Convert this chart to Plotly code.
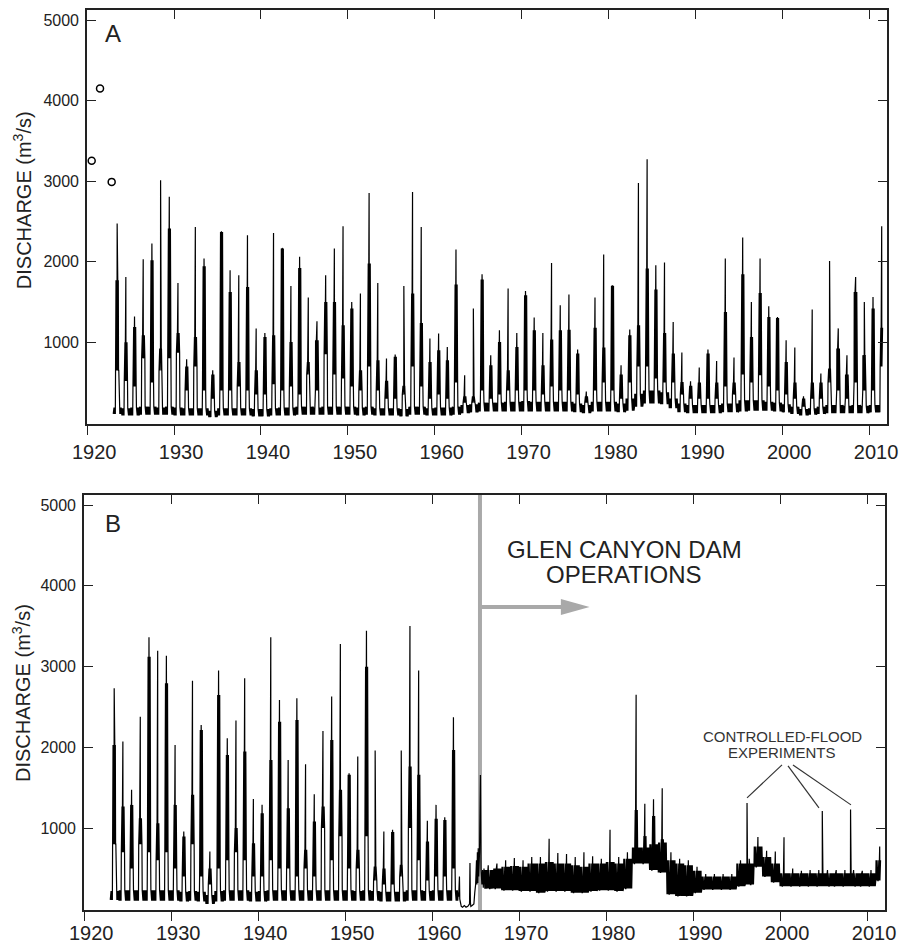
import plotly.graph_objects as go

# ---------------- data ----------------
years_A = list(range(1923, 2012))
A_peak = [2474, 1811, 1318, 2031, 2226, 3012, 2805, 1736, 789, 2432,
          2039, 652, 2378, 1894, 1832, 2329, 1170, 1115, 2357, 2171,
          1699, 2060, 1555, 1261, 1832, 2163, 2440, 1501, 1605, 2854,
          1736, 797, 847, 1699, 2866, 2432, 1046, 1108, 942, 2151,
          590, 1418, 1844, 838, 1149, 1666, 1115, 1637, 1306, 1115,
          1985, 1459, 1592, 909, 387, 1555, 2089, 1708, 714, 1157,
          2978, 3273, 1956, 1990, 1252, 872, 515, 686, 909, 768,
          2039, 810, 2300, 1501, 2039, 1447, 1314, 1025, 934, 329,
          1406, 611, 2010, 1172, 838, 1811, 1501, 1563, 2440]
A_body = [1770, 1000, 1190, 1087, 2018, 921, 2412, 1115, 700, 1066,
          1943, 600, 2370, 1625, 755, 1687, 652, 1066, 1087, 2163,
          1004, 1923, 755, 1025, 1501, 1501, 1211, 1418, 652, 1977,
          776, 522, 820, 460, 1605, 1240, 755, 900, 776, 1716,
          329, 330, 1778, 714, 1004, 652, 942, 1584, 1149, 714,
          1033, 1149, 1155, 859, 330, 1180, 934, 1700, 600, 1087,
          1211, 1915, 1654, 1115, 859, 507, 460, 500, 859, 500,
          1376, 500, 1844, 1066, 1612, 1314, 1300, 755, 500, 300,
          500, 500, 673, 923, 600, 1625, 840, 1418, 1180]
A_mid = [650, 520, 450, 800, 500, 650, 800, 870, 400, 700,
         400, 300, 400, 400, 450, 400, 350, 350, 480, 400,
         450, 350, 600, 400, 850, 600, 550, 450, 400, 700,
         400, 300, 300, 350, 700, 450, 300, 350, 300, 500,
         250, 250, 400, 300, 350, 400, 400, 400, 400, 350,
         450, 400, 400, 350, 250, 400, 500, 400, 300, 500,
         700, 700, 550, 500, 500, 350, 300, 300, 300, 300,
         450, 350, 600, 500, 590, 450, 400, 350, 300, 200,
         300, 300, 500, 400, 300, 500, 400, 400, 700]
A_lo = [110, 90, 90, 100, 100, 100, 100, 90, 90, 90,
        90, 70, 90, 90, 90, 90, 80, 80, 90, 90,
        90, 100, 100, 100, 100, 100, 100, 100, 90, 100,
        90, 90, 90, 80, 100, 100, 90, 90, 90, 100,
        120, 130, 140, 140, 140, 140, 140, 140, 140, 140,
        140, 140, 140, 130, 120, 140, 140, 140, 130, 150,
        200, 240, 240, 230, 180, 130, 120, 120, 120, 120,
        130, 130, 140, 150, 150, 150, 140, 130, 110, 90,
        100, 110, 120, 120, 120, 120, 120, 130, 130]
A_hi = [190, 180, 190, 200, 200, 190, 200, 190, 180, 180,
        180, 150, 180, 180, 180, 180, 170, 170, 180, 190,
        190, 200, 200, 190, 200, 200, 200, 200, 190, 200,
        180, 180, 180, 170, 200, 200, 180, 190, 190, 200,
        220, 230, 250, 250, 250, 260, 260, 270, 260, 260,
        260, 260, 260, 240, 220, 260, 260, 260, 240, 300,
        360, 400, 400, 380, 300, 240, 220, 220, 220, 220,
        240, 240, 280, 280, 280, 260, 250, 230, 200, 170,
        180, 200, 220, 220, 210, 220, 210, 220, 220]
A_hist_years = [1920.52, 1921.48, 1922.82]
A_hist_peaks = [3252, 4150, 2991]

years_B_pre = list(range(1923, 1963))
B_pre_peak = [2731, 2071, 1473, 2380, 3362, 3197, 3135, 2030, 957, 2826,
              2277, 709, 2950, 2112, 2331, 2855, 1361, 1287, 3362, 2587,
              1844, 2607, 1790, 1419, 2203, 2628, 3280, 1679, 1885, 3444,
              1960, 957, 978, 1960, 3502, 2950, 1089, 1287, 1135, 2372]
B_pre_body = [2030, 1266, 1287, 1122, 3123, 1060, 2793, 1287, 895, 1411,
              2215, 500, 2648, 1906, 1000, 1947, 813, 1184, 1844, 2318,
              1246, 2339, 730, 1081, 1266, 2091, 1473, 1659, 730, 2999,
              524, 500, 950, 544, 1761, 1659, 833, 1114, 1100, 1968]
B_pre_mid = [800, 700, 500, 800, 700, 600, 700, 500, 400, 800,
             400, 300, 500, 600, 700, 600, 400, 400, 600, 500,
             500, 400, 500, 400, 1000, 600, 900, 500, 500, 900,
             350, 300, 300, 400, 1000, 600, 350, 400, 400, 500]
B_pre_lo = [110, 100, 100, 100, 100, 100, 100, 100, 90, 100,
            90, 60, 90, 100, 100, 100, 90, 90, 100, 100,
            100, 100, 100, 100, 100, 100, 100, 100, 100, 100,
            100, 90, 90, 90, 100, 100, 100, 100, 100, 100]
B_pre_hi = [220, 230, 230, 230, 230, 230, 230, 230, 210, 220,
            210, 170, 220, 230, 230, 230, 210, 220, 230, 230,
            230, 230, 230, 230, 230, 230, 230, 230, 220, 230,
            220, 210, 210, 210, 230, 230, 220, 230, 230, 230]

# closure of Glen Canyon Dam: 1963-1965 read point by point
B_trans_t = [1963.00, 1963.05, 1963.10, 1963.14, 1963.18, 1963.25, 1963.35, 1963.50,
             1963.70, 1963.90, 1964.10, 1964.30, 1964.35, 1964.40, 1964.45, 1964.60,
             1964.80, 1964.90, 1965.00, 1965.10, 1965.15, 1965.20, 1965.25, 1965.30,
             1965.35, 1965.45, 1965.55, 1965.62, 1965.72, 1965.80, 1965.88, 1965.96]
B_trans_v = [200, 150, 230, 400, 120, 60, 30, 20,
             40, 20, 30, 60, 566, 80, 30, 40,
             60, 200, 300, 600, 300, 700, 320, 750,
             400, 700, 1658, 500, 300, 480, 260, 500]

years_B_post = list(range(1966, 2012))
B_post_lo = [250, 250, 230, 230, 220, 220, 200, 220, 220, 220,
             200, 200, 220, 230, 230, 220, 250, 560, 560, 480,
             450, 180, 160, 160, 200, 240, 240, 240, 240, 280,
             300, 520, 400, 330, 280, 280, 280, 280, 280, 280,
             280, 280, 280, 280, 280, 350]
B_post_hi = [480, 500, 520, 530, 520, 560, 560, 580, 560, 560,
             540, 520, 560, 560, 580, 560, 620, 760, 760, 800,
             820, 600, 560, 540, 470, 400, 400, 400, 400, 560,
             560, 770, 640, 560, 440, 440, 440, 440, 440, 440,
             440, 440, 440, 440, 440, 600]
B_post_body = [480, 500, 520, 530, 520, 560, 560, 580, 560, 560,
               540, 520, 560, 560, 580, 560, 620, 1225, 900, 1150,
               860, 600, 560, 540, 470, 400, 400, 400, 400, 560,
               560, 770, 640, 560, 440, 440, 440, 440, 440, 440,
               440, 440, 440, 440, 440, 600]
B_post_peak = [540, 560, 600, 630, 600, 640, 640, 866, 690, 680,
               640, 700, 650, 620, 980, 640, 700, 2650, 1300, 1357,
               1493, 700, 620, 600, 520, 430, 430, 430, 430, 600,
               620, 890, 720, 709, 887, 500, 470, 480, 480, 480,
               480, 480, 480, 470, 480, 771]

flood_dates = [1996.20, 2004.85, 2008.10]
flood_peaks = [1310, 1210, 1230]

data_end = 2011.55

# within-year sampling template (fraction of year, which value)
CYCLE = [(0.00, 'lo'), (0.03, 'hi'), (0.06, 'lo'), (0.09, 'hi'), (0.12, 'lo'), (0.15, 'hi'),
         (0.18, 'lo'), (0.21, 'hi'), (0.24, 'lo'), (0.27, 'mid'),
         (0.29, 'body'), (0.305, 'mid'), (0.32, 'body'), (0.335, 'mid'), (0.35, 'body'),
         (0.365, 'mid'), (0.38, 'body'), (0.395, 'mid'), (0.41, 'body'), (0.425, 'mid'),
         (0.44, 'body'), (0.45, 'peak'), (0.46, 'body'), (0.475, 'mid'), (0.49, 'body'),
         (0.505, 'mid'), (0.52, 'body'), (0.535, 'mid'), (0.55, 'body'), (0.565, 'mid'),
         (0.58, 'body'), (0.595, 'mid'), (0.61, 'mid'), (0.64, 'mid'), (0.67, 'hi'),
         (0.70, 'lo'), (0.73, 'hi'), (0.76, 'lo'), (0.79, 'hi'), (0.82, 'lo'), (0.85, 'hi'),
         (0.88, 'lo'), (0.91, 'hi'), (0.94, 'lo'), (0.97, 'hi')]


def build(yrs, lo, hi, mid, body, peak):
    pts = []
    for i, yr in enumerate(yrs):
        vals = {'lo': lo[i], 'hi': hi[i], 'mid': mid[i], 'body': body[i], 'peak': peak[i]}
        for off, key in CYCLE:
            t = yr + off
            if t <= data_end:
                pts.append((t, vals[key]))
    return pts


ptsA = build(years_A, A_lo, A_hi, A_mid, A_body, A_peak)
ptsB = (build(years_B_pre, B_pre_lo, B_pre_hi, B_pre_mid, B_pre_body, B_pre_peak)
        + list(zip(B_trans_t, B_trans_v))
        + build(years_B_post, B_post_lo, B_post_hi, B_post_lo, B_post_body, B_post_peak)
        + list(zip(flood_dates, flood_peaks)))
ptsB.sort(key=lambda p: p[0])

xtick_vals = [1920, 1930, 1940, 1950, 1960, 1970, 1980, 1990, 2000, 2010]
xtick_text = [str(v) for v in xtick_vals]
ytick_vals = [1000, 2000, 3000, 4000, 5000]

# ---------------- figure ----------------
FONT = 'Liberation Sans, Arial, Helvetica, sans-serif'
INK = '#222222'
GRAY = '#a9a9a9'
XR = [1919.98, 2012.06]
YR = [-15, 5125]

fig = go.Figure()
fig.add_trace(go.Scatter(x=[p[0] for p in ptsA], y=[p[1] for p in ptsA], mode='lines',
                         line=dict(color='black', width=1.2), xaxis='x', yaxis='y',
                         hoverinfo='skip', showlegend=False))
fig.add_trace(go.Scatter(x=A_hist_years, y=A_hist_peaks, mode='markers',
                         marker=dict(symbol='circle-open', size=7, color='black', line=dict(width=1.5)),
                         xaxis='x', yaxis='y', hoverinfo='skip', showlegend=False))
fig.add_trace(go.Scatter(x=[p[0] for p in ptsB], y=[p[1] for p in ptsB], mode='lines',
                         line=dict(color='black', width=1.2), xaxis='x2', yaxis='y2',
                         hoverinfo='skip', showlegend=False))
# empty traces to hold the top tick axes
fig.add_trace(go.Scatter(x=[None], y=[None], xaxis='x3', yaxis='y', showlegend=False, hoverinfo='skip'))
fig.add_trace(go.Scatter(x=[None], y=[None], xaxis='x4', yaxis='y2', showlegend=False, hoverinfo='skip'))

xbase = dict(range=XR, tickvals=xtick_vals, ticktext=xtick_text, ticks='outside', ticklen=9,
             tickwidth=1.3, tickcolor=INK, showline=True, linecolor=INK, linewidth=1.6,
             mirror=True, showgrid=False, zeroline=False, automargin=False,
             tickfont=dict(family=FONT, size=20, color=INK), ticklabelshift=7)
xtop = dict(range=XR, tickvals=xtick_vals, ticks='inside', ticklen=9, tickwidth=1.3,
            tickcolor=INK, showticklabels=False, showline=False, showgrid=False,
            zeroline=False, side='top', automargin=False)
ybase = dict(range=YR, tickvals=ytick_vals, ticks='inside', ticklen=9, tickwidth=1.3,
             tickcolor=INK, showline=True, linecolor=INK, linewidth=1.6, mirror='ticks',
             showgrid=False, zeroline=False, automargin=False,
             tickfont=dict(family=FONT, size=16, color=INK), ticklabelstandoff=3)

fig.update_layout(
    width=902, height=945,
    margin=dict(l=84, r=15, t=10, b=35),
    paper_bgcolor='white', plot_bgcolor='white',
    xaxis=dict(xbase, domain=[3 / 803, 1.0], anchor='y'),
    yaxis=dict(ybase, domain=[0.54, 1.0], anchor='x'),
    xaxis2=dict(xbase, domain=[0.0, 801 / 803], anchor='y2', ticklabelstandoff=-5),
    yaxis2=dict(ybase, domain=[0.0, 0.4611], anchor='x2'),
    xaxis3=dict(xtop, overlaying='x', anchor='y'),
    xaxis4=dict(xtop, overlaying='x2', anchor='y2'),
)

dam_x = 1965.50
arrow_y = 3738
shapes = [
    dict(type='line', xref='x2', yref='y2 domain', x0=dam_x, x1=dam_x, y0=0, y1=1,
         line=dict(color=GRAY, width=4), layer='below'),
    dict(type='line', xref='x2', yref='y2', x0=dam_x, x1=1975.2, y0=arrow_y, y1=arrow_y,
         line=dict(color=GRAY, width=4), layer='below'),
    dict(type='path', xref='x2', yref='y2',
         path=f'M 1974.8,{arrow_y + 100} L 1978.1,{arrow_y} L 1974.8,{arrow_y - 100} Z',
         fillcolor=GRAY, line=dict(width=0), layer='below'),
    dict(type='line', xref='x2', yref='y2', x0=2000.22, y0=1782, x1=1996.20, y1=1374,
         line=dict(color='#333333', width=1.2)),
    dict(type='line', xref='x2', yref='y2', x0=2000.91, y0=1770, x1=2004.47, y1=1250,
         line=dict(color='#333333', width=1.2)),
    dict(type='line', xref='x2', yref='y2', x0=2001.48, y0=1782, x1=2008.15, y1=1287,
         line=dict(color='#333333', width=1.2)),
]
fig.update_layout(shapes=shapes)

ann = [
    dict(text='A', xref='x domain', yref='y domain', x=0.02, y=0.943, xanchor='left',
         yanchor='middle', showarrow=False, font=dict(family=FONT, size=24, color=INK)),
    dict(text='B', xref='x2 domain', yref='y2 domain', x=0.0237, y=0.9325, xanchor='left',
         yanchor='middle', showarrow=False, font=dict(family=FONT, size=24, color=INK)),
    dict(text='DISCHARGE (m<sup>3</sup>/s)', xref='paper', yref='y', x=-0.0772, y=2764,
         textangle=-90, xanchor='center', yanchor='middle', showarrow=False,
         font=dict(family=FONT, size=20, color=INK)),
    dict(text='DISCHARGE (m<sup>3</sup>/s)', xref='paper', yref='y2', x=-0.0772, y=2673,
         textangle=-90, xanchor='center', yanchor='middle', showarrow=False,
         font=dict(family=FONT, size=20, color=INK)),
    dict(text='GLEN CANYON DAM', xref='x2', yref='y2', x=1982.06, y=4455, xanchor='center',
         yanchor='middle', showarrow=False, font=dict(family=FONT, size=24, color=INK)),
    dict(text='OPERATIONS', xref='x2', yref='y2', x=1982.06, y=4146, xanchor='center',
         yanchor='middle', showarrow=False, font=dict(family=FONT, size=24, color=INK)),
    dict(text='CONTROLLED-FLOOD', xref='x2', yref='y2', x=2000.22, y=2135, xanchor='center',
         yanchor='middle', showarrow=False, font=dict(family=FONT, size=15, color='#333333')),
    dict(text='EXPERIMENTS', xref='x2', yref='y2', x=2000.22, y=1937, xanchor='center',
         yanchor='middle', showarrow=False, font=dict(family=FONT, size=15, color='#333333')),
]
fig.update_layout(annotations=ann)

fig.write_html('out.html')
